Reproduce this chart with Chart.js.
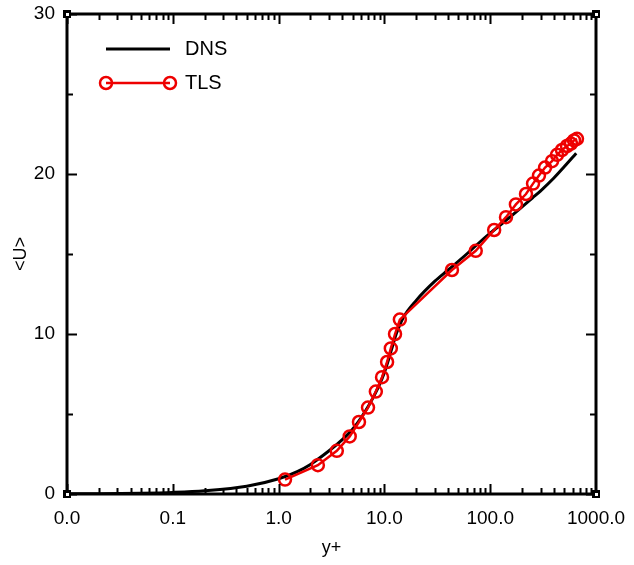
<!DOCTYPE html>
<html>
<head>
<meta charset="utf-8">
<title>DNS vs TLS</title>
<script src="https://cdn.jsdelivr.net/npm/chart.js@4.4.1/dist/chart.umd.min.js"></script>
<style>
  body { margin: 0; background: #fff; }
  canvas { display: block; }
</style>
</head>
<body>
<canvas id="profileChart" width="634" height="565"></canvas>
<script>
// DNS mean velocity profile (black line)
const dnsX = [0.01, 0.02, 0.05, 0.1, 0.2, 0.5, 1, 1.5, 2, 3, 4, 5, 6, 7, 8, 9, 10, 11, 12, 13, 15, 20, 30, 40, 60, 80, 100, 150, 200, 250, 300, 400, 500, 650];
const dnsU = [0.01, 0.02, 0.05, 0.1, 0.2, 0.48, 0.95, 1.4, 1.85, 2.7, 3.4, 4.05, 4.75, 5.45, 6.15, 6.85, 7.6, 8.45, 9.3, 10.05, 11.0, 12.1, 13.3, 14.0, 15.0, 15.75, 16.3, 17.25, 17.95, 18.5, 18.95, 19.75, 20.45, 21.3];

// TLS result (red line with circles)
const tlsX = [1.15, 2.35, 3.55, 4.7, 5.75, 7.0, 8.3, 9.5, 10.6, 11.5, 12.6, 14.0, 43.5, 73, 109, 141, 175, 218, 254, 289, 330, 384, 428, 477, 532, 580, 620, 661];
const tlsU = [0.9, 1.8, 2.7, 3.6, 4.5, 5.4, 6.4, 7.3, 8.25, 9.1, 10.0, 10.9, 14.0, 15.2, 16.5, 17.3, 18.1, 18.75, 19.4, 19.9, 20.4, 20.8, 21.2, 21.5, 21.75, 21.9, 22.1, 22.2];

// axis ticks
const xTicks = [0.01, 0.1, 1, 10, 100, 1000];
const yTicks = [0, 10, 20, 30];

const RED = '#ee0000';
const FONT = '"Liberation Sans", Arial, sans-serif';

Chart.defaults.color = '#000';
Chart.defaults.font.family = FONT;

function toPoints(xs, ys) {
  return xs.map((x, i) => ({ x: x, y: ys[i] }));
}

// frame, inward ticks, corner marks and the legend inside the plot
const framePlugin = {
  id: 'frame',
  afterDatasetsDraw(chart) {
    const ctx = chart.ctx;
    const a = chart.chartArea;
    const x = chart.scales.x;
    const y = chart.scales.y;

    ctx.save();
    ctx.strokeStyle = '#000';
    ctx.lineWidth = 2;
    ctx.beginPath();
    // log minor/major ticks on bottom and top
    for (let e = -2; e < 3; e++) {
      for (let m = 1; m <= 9; m++) {
        const px = Math.round(x.getPixelForValue(m * Math.pow(10, e))) + 0.5;
        const len = m === 1 ? 10 : 6;
        ctx.moveTo(px, a.bottom); ctx.lineTo(px, a.bottom - len);
        ctx.moveTo(px, a.top); ctx.lineTo(px, a.top + len);
      }
    }
    // ticks every 5 on left and right
    for (let v = 0; v <= 30; v += 5) {
      const py = Math.round(y.getPixelForValue(v)) + 0.5;
      const len = v % 10 === 0 ? 10 : 6;
      ctx.moveTo(a.left, py); ctx.lineTo(a.left + len, py);
      ctx.moveTo(a.right, py); ctx.lineTo(a.right - len, py);
    }
    ctx.stroke();

    ctx.lineWidth = 3;
    ctx.strokeRect(a.left, a.top, a.right - a.left, a.bottom - a.top);

    // little square marks at the corners
    [[a.left, a.top], [a.right, a.top], [a.left, a.bottom], [a.right, a.bottom]].forEach(c => {
      ctx.fillStyle = '#000';
      ctx.fillRect(c[0] - 4, c[1] - 4, 8, 8);
      ctx.fillStyle = '#fff';
      ctx.fillRect(c[0] - 1, c[1] - 1, 3, 3);
    });

    // legend
    ctx.lineWidth = 3;
    ctx.strokeStyle = '#000';
    ctx.beginPath();
    ctx.moveTo(106, 49); ctx.lineTo(170, 49);
    ctx.stroke();

    ctx.strokeStyle = RED;
    ctx.lineWidth = 2.5;
    ctx.beginPath();
    ctx.moveTo(106, 83); ctx.lineTo(170, 83);
    ctx.stroke();
    [106, 170].forEach(cx => {
      ctx.beginPath();
      ctx.arc(cx, 83, 6, 0, Math.PI * 2);
      ctx.stroke();
    });

    ctx.fillStyle = '#000';
    ctx.font = '20px ' + FONT;
    ctx.textBaseline = 'middle';
    ctx.textAlign = 'left';
    ctx.fillText('DNS', 185, 49);
    ctx.fillText('TLS', 185, 83);
    ctx.restore();
  }
};

document.addEventListener('DOMContentLoaded', function() {
  const ctx = document.getElementById('profileChart').getContext('2d');

  new Chart(ctx, {
    type: 'line',
    data: {
      datasets: [
        {
          label: 'TLS',
          data: toPoints(tlsX, tlsU),
          borderColor: RED,
          borderWidth: 2.5,
          pointRadius: 6,
          pointBorderWidth: 2.5,
          pointBorderColor: RED,
          pointBackgroundColor: 'rgba(0,0,0,0)',
          tension: 0,
          order: 0
        },
        {
          label: 'DNS',
          data: toPoints(dnsX, dnsU),
          borderColor: '#000',
          borderWidth: 3,
          pointRadius: 0,
          cubicInterpolationMode: 'monotone',
          order: 1
        }
      ]
    },
    options: {
      responsive: false,
      animation: false,
      layout: { padding: { left: 0, right: 38, top: 14, bottom: 0 } },
      plugins: {
        legend: { display: false },
        tooltip: { enabled: false }
      },
      scales: {
        x: {
          type: 'logarithmic',
          min: 0.01,
          max: 1000,
          grid: { display: false, drawTicks: false },
          border: { display: false },
          afterBuildTicks: scale => { scale.ticks = xTicks.map(v => ({ value: v })); },
          afterFit: scale => {
            scale.height = 71;
            scale.paddingLeft = 0;
            scale.paddingRight = 0;
          },
          ticks: {
            autoSkip: false,
            maxRotation: 0,
            padding: 13,
            font: { size: 19 },
            callback: value => Number(value).toFixed(1)
          },
          title: {
            display: true,
            text: 'y+',
            font: { size: 18 },
            padding: { top: 0, bottom: 6 }
          }
        },
        y: {
          min: 0,
          max: 30,
          grid: { display: false, drawTicks: false },
          border: { display: false },
          afterBuildTicks: scale => { scale.ticks = yTicks.map(v => ({ value: v })); },
          afterFit: scale => {
            scale.width = 67;
            scale.paddingTop = 0;
            scale.paddingBottom = 0;
          },
          ticks: {
            padding: 12,
            font: { size: 19 }
          },
          title: {
            display: true,
            text: '<U>',
            font: { size: 18 },
            padding: { top: 10, bottom: 0 }
          }
        }
      }
    },
    plugins: [framePlugin]
  });
});
</script>
</body>
</html>
